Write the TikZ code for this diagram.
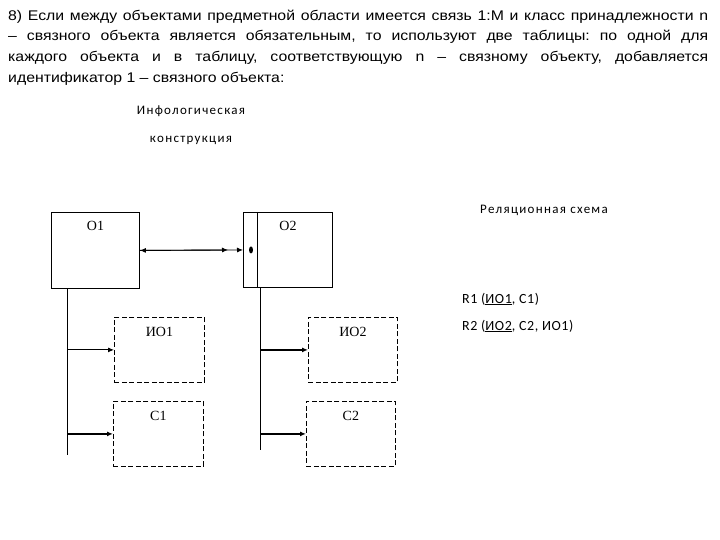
\documentclass[tikz,border=0pt]{standalone}
\usepackage{fontspec}
\setmainfont[FakeStretch=1.13]{Liberation Sans}
\newfontfamily\calfont[LetterSpace=10]{Carlito}
\newfontfamily\relfont[LetterSpace=4]{Carlito}
\newfontfamily\romfont{Liberation Serif}
\usetikzlibrary{arrows.meta}

\begin{document}
\begin{tikzpicture}[
    x=1pt,
    y=-1pt,
    box/.style={draw, line width=0.9pt, anchor=north west, inner sep=0pt},
    attr/.style={box, dash pattern=on 5pt off 2.5pt, line width=0.8pt},
    lbl/.style={anchor=base, inner sep=0pt, font=\romfont\fontsize{14}{16}\selectfont},
    cal/.style={inner sep=0pt, font=\calfont\fontsize{13}{15}\selectfont},
    rel/.style={inner sep=0pt, anchor=base west, font=\relfont\fontsize{14}{16}\selectfont},
    tip/.style={-{Latex[length=6pt,width=5pt]}}
  ]
  \useasboundingbox (0,0) rectangle (720,540);

  \node[anchor=north west, inner sep=0pt, text width=700pt, align=justify,
    font=\fontsize{14}{20.7}\selectfont] (txt) at (8,9.5)
  {\tolerance=9999\relax\hyphenpenalty=10000\relax\frenchspacing
    8) Если между объектами предметной области имеется связь 1:М и класс принадлежности n\linebreak
    – связного объекта является обязательным, то используют две таблицы: по одной для\linebreak
    каждого объекта и в таблицу, соответствующую n – связному объекту, добавляется\linebreak
    идентификатор 1 – связного объекта:};

  \node[cal, anchor=base] (info) at (191,115) {Инфологическая};
  \node[cal, anchor=base] (constr) at (191,143) {конструкция};
  \node[cal, anchor=base] (relname) at (544,214) {Реляционная схема};
  \node[rel] (r1) at (462,303) {R1 (\underline{ИО1}, С1)};
  \node[rel] (r2) at (462,330) {R2 (\underline{ИО2}, С2, ИО1)};

  \node[box, minimum width=88pt, minimum height=76pt] (o1) at (51,212) {};
  \node[box, minimum width=89pt, minimum height=75pt] (o2) at (243,212) {};
  \node[attr, minimum width=90pt, minimum height=65pt] (io1) at (114,317) {};
  \node[attr, minimum width=90pt, minimum height=65pt] (c1) at (113,401) {};
  \node[attr, minimum width=89pt, minimum height=65pt] (io2) at (308,317) {};
  \node[attr, minimum width=89pt, minimum height=65pt] (c2) at (306,401) {};

  \node[lbl] (o1l) at ([yshift=-18pt]o1.north) {О1};
  \node[lbl] (o2l) at ([yshift=-18pt]o2.north) {О2};
  \node[lbl] (io1l) at ([yshift=-19pt]io1.north) {ИО1};
  \node[lbl] (c1l) at ([yshift=-19pt]c1.north) {С1};
  \node[lbl] (io2l) at ([yshift=-19pt]io2.north) {ИО2};
  \node[lbl] (c2l) at ([yshift=-19pt]c2.north) {С2};

  \draw[line width=0.9pt] ([xshift=14pt]o2.north west) -- ([xshift=14pt]o2.south west);

  \coordinate (m) at ([xshift=-15pt]o2.west);
  \draw[line width=0.9pt, {Latex[length=6pt,width=5pt]}-{Latex[length=6pt,width=5pt]}] (o1.east) -- (o2.west);
  \draw[line width=0.9pt, tip] (o1.east) -- (m);
  \fill ([xshift=8pt]o2.west) ellipse [x radius=2pt, y radius=3.5pt];

  \coordinate (t1) at (67,455);
  \coordinate (t2) at (260,450);
  \draw[line width=0.9pt] (o1.south -| t1) -- (t1);
  \draw[line width=0.9pt] (o2.south -| t2) -- (t2);

  \draw[tip, line width=0.9pt] (t1 |- io1.west) -- (io1.west);
  \draw[tip, line width=1.6pt] (t1 |- c1.west) -- (c1.west);
  \draw[tip, line width=1.4pt] (t2 |- io2.west) -- (io2.west);
  \draw[tip, line width=1.4pt] (t2 |- c2.west) -- (c2.west);
\end{tikzpicture}
\end{document}
